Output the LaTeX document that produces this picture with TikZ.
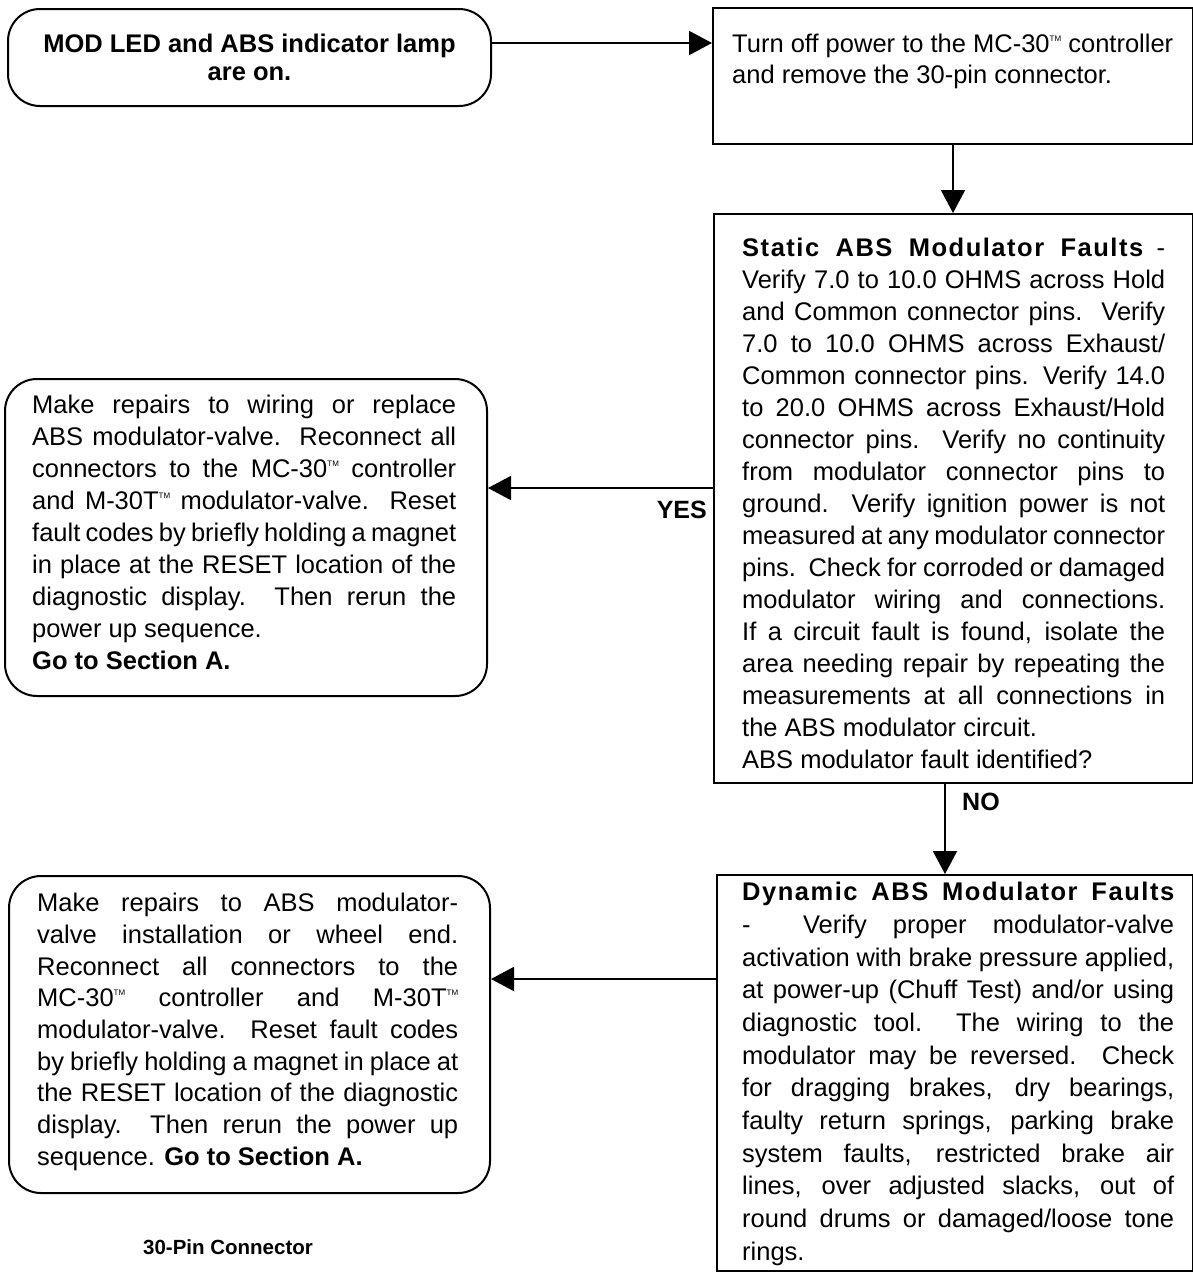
\documentclass[tikz,border=0pt]{standalone}
\usepackage{fontspec}
\setmainfont{Liberation Sans}
\newfontfamily\headfont[LetterSpace=6]{Liberation Sans}
\usetikzlibrary{arrows.meta}
\newcommand{\tmark}{\raisebox{0.45em}{\fontsize{8pt}{8pt}\selectfont TM}}
\newlength{\jw}
\newcommand{\jl}[1]{\makebox[\jw][s]{#1}}
\begin{document}
\begin{tikzpicture}[x=1pt,y=-1pt,
  box/.style={draw, line width=2pt, inner sep=0pt, anchor=north west},
  rbox/.style={box, rounded corners=32pt},
  arr/.style={line width=2pt, -{Triangle[length=23pt,width=24pt]}},
  txt/.style={inner sep=0pt, anchor=north west, align=left},
  jw/.code={\global\jw=#1\relax},
  body/.style={font=\fontsize{25.5pt}{32pt}\selectfont},
  lbl/.style={inner sep=0pt, font=\bfseries\fontsize{25pt}{28pt}\selectfont}]
\useasboundingbox (0,0) rectangle (1193,1272);
\fill[white] (0,0) rectangle (1193,1272);

% boxes
\node[rbox, minimum width=483pt, minimum height=97pt] (start) at (7,8) {};
\node[align=center, inner sep=0pt, font=\bfseries\fontsize{25.5pt}{28pt}\selectfont] (starttext) at (start.center) {MOD LED and ABS indicator lamp\\are on.};

\node[box, minimum width=480pt, minimum height=136pt] (power) at (712,7) {};
\node[txt, font=\fontsize{25.5pt}{31pt}\selectfont] (powertext) at (732,34) {Turn off power to the MC-30\tmark{} controller\\and remove the 30-pin connector.};

\node[box, minimum width=479pt, minimum height=569pt] (static) at (713,213) {};
\node[txt, body, jw=423pt] (statictext) at (742,238) {%
\jl{{\headfont\bfseries Static ABS Modulator Faults} -}\\
\jl{Verify 7.0 to 10.0 OHMS across Hold}\\
\jl{and Common connector pins.\ \ Verify}\\
\jl{7.0 to 10.0 OHMS across Exhaust/}\\
\jl{Common connector pins. Verify 14.0}\\
\jl{to 20.0 OHMS across Exhaust/Hold}\\
\jl{connector pins.\ \ Verify no continuity}\\
\jl{from modulator connector pins to}\\
\jl{ground.\ \ Verify ignition power is not}\\
\jl{measured at any modulator connector}\\
\jl{pins.\ \ Check for corroded or damaged}\\
\jl{modulator wiring and connections.}\\
\jl{If a circuit fault is found, isolate the}\\
\jl{area needing repair by repeating the}\\
\jl{measurements at all connections in}\\
the ABS modulator circuit.\\
ABS modulator fault identified?};

\node[rbox, minimum width=482pt, minimum height=317pt] (repair1) at (4,378) {};
\node[txt, body, jw=424pt] (repair1text) at (32,395) {%
\jl{Make repairs to wiring or replace}\\
\jl{ABS modulator-valve.\ \ Reconnect all}\\
\jl{connectors to the MC-30\tmark{} controller}\\
\jl{and M-30T\tmark{} modulator-valve.\ \ Reset}\\
\jl{fault codes by briefly holding a magnet}\\
\jl{in place at the RESET location of the}\\
\jl{diagnostic display.\ \ Then rerun the}\\
power up sequence.\\
\textbf{Go to Section A.}};

\node[box, minimum width=476pt, minimum height=396pt] (dynamic) at (716,874) {};
\node[txt, font=\fontsize{25.5pt}{32.7pt}\selectfont, jw=432pt] (dynamictext) at (742,882) {%
\jl{{\headfont\bfseries Dynamic ABS Modulator Faults}}\\
\jl{-\ \ Verify proper modulator-valve}\\
\jl{activation with brake pressure applied,}\\
\jl{at power-up (Chuff Test) and/or using}\\
\jl{diagnostic tool.\ \ The wiring to the}\\
\jl{modulator may\ be reversed.\ \ Check}\\
\jl{for dragging brakes, dry bearings,}\\
\jl{faulty return springs, parking brake}\\
\jl{system faults, restricted brake air}\\
\jl{lines, over adjusted slacks, out of}\\
\jl{round drums or damaged/loose tone}\\
rings.};

\node[rbox, minimum width=481pt, minimum height=317pt] (repair2) at (8,875) {};
\node[txt, font=\fontsize{25.5pt}{31.7pt}\selectfont, jw=421pt] (repair2text) at (37,893) {%
\jl{Make repairs to ABS modulator-}\\
\jl{valve installation or wheel end.}\\
\jl{Reconnect all connectors to the}\\
\jl{MC-30\tmark{} controller and M-30T\tmark}\\
\jl{modulator-valve.\ \ Reset fault codes}\\
\jl{by briefly holding a magnet in place at}\\
\jl{the RESET location of the diagnostic}\\
\jl{display.\ \ Then rerun the power up}\\
sequence. \textbf{Go to Section A.}};

\node[inner sep=0pt, anchor=base, font=\bfseries\fontsize{20.5pt}{24pt}\selectfont] (pin) at (228,1254) {30-Pin Connector};

% connectors
\draw[arr] (start.east |- 0,43) -- (power.west |- 0,43);
\draw[arr] (power.south) -- (power.south |- static.north);
\draw[arr] (static.west |- 0,488) -- (repair1.east |- 0,488);
\draw[arr] (static.south -| 945,0) -- (dynamic.north -| 945,0);
\draw[arr] (dynamic.west |- 0,979) -- (repair2.east |- 0,979);

\node[lbl, anchor=base east] (yes) at (707,518) {YES};
\node[lbl, anchor=base west] (no) at (962,810) {NO};
\end{tikzpicture}
\end{document}
